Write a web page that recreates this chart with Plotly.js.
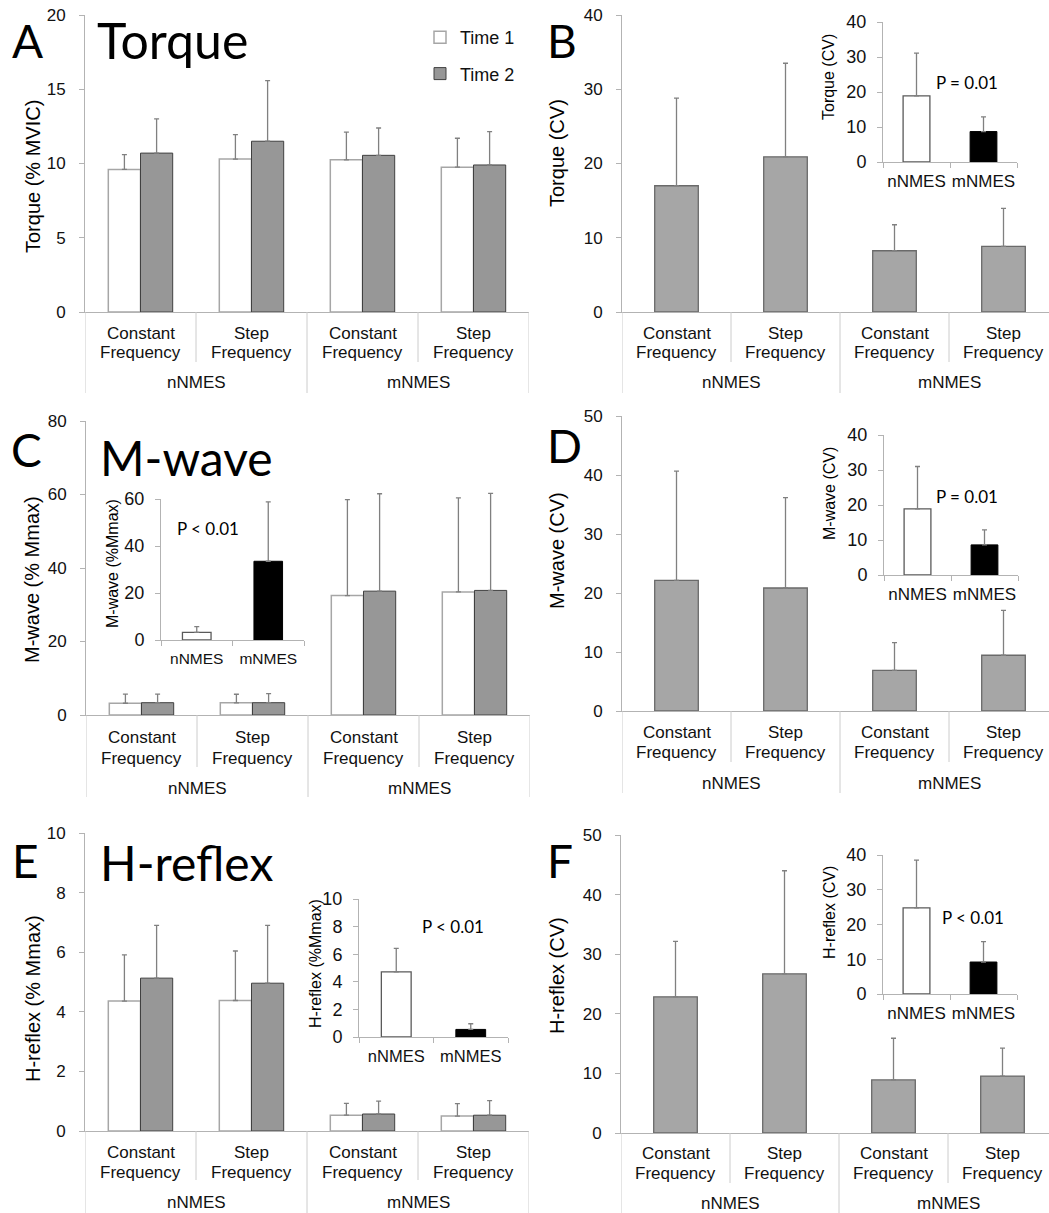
<!DOCTYPE html>
<html>
<head>
<meta charset="utf-8">
<script src="https://cdn.plot.ly/plotly-3.0.1.min.js"></script>
<style>html,body{margin:0;padding:0;background:#fff;}#chart{width:1049px;height:1213px;}</style>
</head>
<body>
<div id="chart"></div>
<script>
// ---------------- DATA ----------------
const catLine1 = ['Constant', 'Step', 'Constant', 'Step'];
const catLine2 = ['Frequency', 'Frequency', 'Frequency', 'Frequency'];
const groupLabels = ['nNMES', 'mNMES'];
const insetCats = ['nNMES', 'mNMES'];
const seriesNames = ['Time 1', 'Time 2'];

// A: Torque (% MVIC)
const torqueT1 = [9.6, 10.3, 10.25, 9.75];
const torqueT1Err = [1.0, 1.64, 1.86, 1.95];
const torqueT2 = [10.7, 11.5, 10.55, 9.9];
const torqueT2Err = [2.3, 4.08, 1.84, 2.24];
// B: Torque (CV)
const torqueCV = [17.0, 20.9, 8.25, 8.85];
const torqueCVErr = [11.8, 12.6, 3.5, 5.1];
const torqueCVInset = [18.9, 8.7];
const torqueCVInsetErr = [12.2, 4.2];
// C: M-wave (% Mmax)
const mwaveT1 = [3.2, 3.3, 32.5, 33.5];
const mwaveT1Err = [2.5, 2.35, 26.1, 25.6];
const mwaveT2 = [3.35, 3.35, 33.7, 33.9];
const mwaveT2Err = [2.35, 2.45, 26.5, 26.4];
const mwaveInset = [3.25, 33.5];
const mwaveInsetErr = [2.4, 25.3];
// D: M-wave (CV)
const mwaveCV = [22.15, 20.85, 6.9, 9.45];
const mwaveCVErr = [18.5, 15.3, 4.7, 7.6];
const mwaveCVInset = [18.9, 8.6];
const mwaveCVInsetErr = [12.1, 4.3];
// E: H-reflex (% Mmax)
const hrefT1 = [4.36, 4.38, 0.53, 0.50];
const hrefT1Err = [1.55, 1.66, 0.40, 0.42];
const hrefT2 = [5.13, 4.96, 0.57, 0.53];
const hrefT2Err = [1.77, 1.94, 0.43, 0.49];
const hrefInset = [4.72, 0.55];
const hrefInsetErr = [1.7, 0.41];
// F: H-reflex (CV)
const hrefCV = [22.85, 26.7, 8.9, 9.55];
const hrefCVErr = [9.3, 17.3, 7.0, 4.7];
const hrefCVInset = [24.8, 9.2];
const hrefCVInsetErr = [13.7, 5.9];

// ---------------- LAYOUT HELPERS ----------------
const W = 1049, H = 1213;
const fx = v => v / W;
const fy = v => 1 - v / H;
const AX = 'Liberation Sans, Arial, sans-serif';
const CAL = 'Lato, Carlito, Calibri, sans-serif';
const axisColor = '#b3b3b3';
const sepColor = '#cccccc';
const errColor = '#808080';

const data = [];
const layout = {
  width: W, height: H,
  margin: {l: 0, r: 0, t: 0, b: 0},
  paper_bgcolor: '#fff', plot_bgcolor: 'rgba(0,0,0,0)',
  barmode: 'overlay',
  showlegend: true,
  legend: {x: fx(420), y: fy(19), xanchor: 'left', yanchor: 'top',
           font: {family: AX, size: 18, color: '#111'}, bgcolor: 'rgba(0,0,0,0)',
           traceorder: 'grouped', tracegroupgap: 10},
  annotations: [], shapes: []
};
const catIdx = [0, 1, 2, 3];
const insIdx = [0, 1];

function addAxes(n, x0, x1, y0, y1, yr, dtick, xr, standoff, tickSize, isInset) {
  const xs = 'xaxis' + (n === 1 ? '' : n), ys = 'yaxis' + (n === 1 ? '' : n);
  const xid = 'x' + (n === 1 ? '' : n), yid = 'y' + (n === 1 ? '' : n);
  layout[xs] = {domain: [fx(x0), fx(x1)], range: xr, anchor: yid, showline: true,
    linecolor: axisColor, linewidth: 1, showgrid: false, zeroline: false, fixedrange: true,
    ticks: '', showticklabels: false};
  if (isInset) {
    layout[xs].tickvals = [0, 1];
    layout[xs].ticktext = insetCats;
    layout[xs].showticklabels = true;
    layout[xs].ticklabelstandoff = 4;
    layout[xs].tickfont = {family: AX, size: isInset, color: '#111'};
    layout[xs].minor = {tickvals: [-0.5, 0.5, 1.5], ticks: 'outside', ticklen: 5, tickcolor: axisColor, tickwidth: 1};
  }
  layout[ys] = {domain: [fy(y1), fy(y0)], range: yr, dtick: dtick, tick0: 0, anchor: xid,
    showline: true, linecolor: axisColor, linewidth: 1, showgrid: false, zeroline: false,
    ticks: 'outside', ticklen: 5, tickcolor: axisColor, tickwidth: 1, fixedrange: true,
    ticklabelstandoff: standoff, tickfont: {family: AX, size: tickSize, color: '#111'}};
  return [xid, yid];
}

function barTrace(xid, yid, xs, ys, errs, fill, lineColor, lineW, width, offset, name, show, group) {
  const t = {type: 'bar', x: xs, y: ys, xaxis: xid, yaxis: yid, width: width,
    marker: {color: fill, line: {color: lineColor, width: lineW}},
    error_y: {type: 'data', symmetric: false, array: errs, arrayminus: errs.map(() => 0),
              color: errColor, thickness: 1.3, width: 2.5},
    name: name || '', showlegend: !!show, hoverinfo: 'skip'};
  if (offset !== undefined) t.offset = offset;
  if (group) t.legendgroup = group;
  return t;
}

function catDecor(xid, axisY, shortY, longY, l1, l2, gY, hasRight) {
  const xr = xid;
  [0.5, 2.5].forEach(v => layout.shapes.push({type: 'line', xref: xr, yref: 'paper', x0: v, x1: v,
    y0: fy(axisY), y1: fy(shortY), line: {color: sepColor, width: 1}}));
  const longs = hasRight ? [-0.5, 1.5, 3.5] : [-0.5, 1.5];
  longs.forEach(v => layout.shapes.push({type: 'line', xref: xr, yref: 'paper', x0: v, x1: v,
    y0: fy(axisY), y1: fy(longY), line: {color: sepColor, width: 1}}));
  catIdx.forEach(i => {
    layout.annotations.push({xref: xr, yref: 'paper', x: i, y: fy(l1), text: catLine1[i], showarrow: false,
      xanchor: 'center', yanchor: 'middle', font: {family: AX, size: 17, color: '#111'}});
    layout.annotations.push({xref: xr, yref: 'paper', x: i, y: fy(l2), text: catLine2[i], showarrow: false,
      xanchor: 'center', yanchor: 'middle', font: {family: AX, size: 17, color: '#111'}});
  });
  [0, 1].forEach(g => layout.annotations.push({xref: xr, yref: 'paper', x: 0.5 + 2 * g, y: fy(gY),
    text: groupLabels[g], showarrow: false, xanchor: 'center', yanchor: 'middle',
    font: {family: AX, size: 17, color: '#111'}}));
}

function txt(x, y, text, size, family, anchor, angle) {
  layout.annotations.push({xref: 'paper', yref: 'paper', x: fx(x), y: fy(y), text: text, showarrow: false,
    xanchor: anchor || 'center', yanchor: 'middle', textangle: angle || 0,
    font: {family: family, size: size, color: '#000'}});
}

// grouped (Time 1 / Time 2) panel
function groupedPanel(n, box, yr, dtick, t1, e1, t2, e2, decor, legend) {
  const [xid, yid] = addAxes(n, box[0], box[1], box[2], box[3], yr, dtick, [-0.5, 3.5], 10, 17, 0);
  data.push(barTrace(xid, yid, catIdx, t1, e1, '#ffffff', '#a6a6a6', 1.5, 0.29, -0.29, seriesNames[0], legend, 'g1'));
  data.push(barTrace(xid, yid, catIdx, t2, e2, '#979797', '#404040', 1, 0.29, 0.0, seriesNames[1], legend, 'g2'));
  catDecor(xid, box[3], decor[0], decor[1], decor[2], decor[3], decor[4], true);
}
function cvPanel(n, box, yr, dtick, xend, vals, errs, decor) {
  const [xid, yid] = addAxes(n, box[0], box[1], box[2], box[3], yr, dtick, [-0.5, xend], 10, 17, 0);
  data.push(barTrace(xid, yid, catIdx, vals, errs, '#a6a6a6', '#6a6a6a', 1.3, 0.40));
  catDecor(xid, box[3], decor[0], decor[1], decor[2], decor[3], decor[4], false);
}
function insetPanel(n, box, yr, dtick, vals, errs, xfont) {
  const [xid, yid] = addAxes(n, box[0], box[1], box[2], box[3], yr, dtick, [-0.5, 1.5], 7, 18, xfont);
  data.push(barTrace(xid, yid, [insIdx[0]], [vals[0]], [errs[0]], '#ffffff', '#5a5a5a', 1.3, 0.40));
  data.push(barTrace(xid, yid, [insIdx[1]], [vals[1]], [errs[1]], '#000000', '#000000', 1, 0.40));
}

// ---------------- PANELS ----------------
// A
groupedPanel(1, [85, 529, 15, 312], [0, 20], 5, torqueT1, torqueT1Err, torqueT2, torqueT2Err, [362, 393, 333, 352, 383], true);
// B
cvPanel(2, [622, 1049, 15, 312], [0, 40], 10, -0.5 + 427 / 109, torqueCV, torqueCVErr, [362, 393, 333, 353, 383]);
// C
groupedPanel(3, [86, 530, 421, 715], [0, 80], 20, mwaveT1, mwaveT1Err, mwaveT2, mwaveT2Err, [767, 797, 737, 758, 788], false);
// D
cvPanel(4, [622, 1049, 416, 711], [0, 50], 10, -0.5 + 427 / 109, mwaveCV, mwaveCVErr, [762, 793, 732, 752, 783]);
// E
groupedPanel(5, [85, 529, 833, 1131], [0, 10], 2, hrefT1, hrefT1Err, hrefT2, hrefT2Err, [1180, 1213, 1152, 1172, 1202], false);
// F
cvPanel(6, [621, 1049, 835, 1133], [0, 50], 10, -0.5 + 428 / 109, hrefCV, hrefCVErr, [1183, 1213, 1153, 1173, 1203]);

// Insets
insetPanel(7, [883, 1017, 22, 162], [0, 40], 10, torqueCVInset, torqueCVInsetErr, 17);
insetPanel(8, [161, 304, 499, 640], [0, 60], 20, mwaveInset, mwaveInsetErr, 15.5);
insetPanel(9, [884, 1018, 435, 575], [0, 40], 10, mwaveCVInset, mwaveCVInsetErr, 17);
insetPanel(10, [359, 508, 899, 1037], [0, 10], 2, hrefInset, hrefInsetErr, 16.5);
insetPanel(11, [883, 1017, 855, 994], [0, 40], 10, hrefCVInset, hrefCVInsetErr, 17);

// ---------------- TEXT ----------------
// panel letters & titles
txt(10, 40, 'A', 46, CAL, 'left');
txt(95, 40, 'Torque', 50, CAL, 'left');
txt(545, 40, 'B', 46, CAL, 'left');
txt(9, 450, 'C', 46, CAL, 'left');
txt(98, 457, 'M-wave', 48, CAL, 'left');
txt(545, 445, 'D', 46, CAL, 'left');
txt(10, 860, 'E', 46, CAL, 'left');
txt(98, 862, 'H-reflex', 48, CAL, 'left');
txt(545, 860, 'F', 46, CAL, 'left');

// main y titles
txt(33, 177, 'Torque (% MVIC)', 20, AX, 'center', -90);
txt(557, 153, 'Torque (CV)', 20, AX, 'center', -90);
txt(32, 580, 'M-wave (% Mmax)', 20, AX, 'center', -90);
txt(557, 551, 'M-wave (CV)', 20, AX, 'center', -90);
txt(33, 999, 'H-reflex (% Mmax)', 20, AX, 'center', -90);
txt(557, 976, 'H-reflex (CV)', 20, AX, 'center', -90);

// inset y titles
txt(829, 77, 'Torque (CV)', 16, AX, 'center', -90);
txt(112, 564, 'M-wave (%Mmax)', 16, AX, 'center', -90);
txt(829, 494, 'M-wave (CV)', 16, AX, 'center', -90);
txt(315, 964, 'H-reflex (%Mmax)', 16, AX, 'center', -90);
txt(829, 913, 'H-reflex (CV)', 16, AX, 'center', -90);

// p-values
txt(934, 83, 'P = 0.01', 17, CAL, 'left');
txt(175, 528, 'P &lt; 0.01', 17, CAL, 'left');
txt(934, 497, 'P = 0.01', 17, CAL, 'left');
txt(420, 926, 'P &lt; 0.01', 17, CAL, 'left');
txt(940, 917, 'P &lt; 0.01', 17, CAL, 'left');

Plotly.newPlot('chart', data, layout, {staticPlot: true, displayModeBar: false});
</script>
</body>
</html>
